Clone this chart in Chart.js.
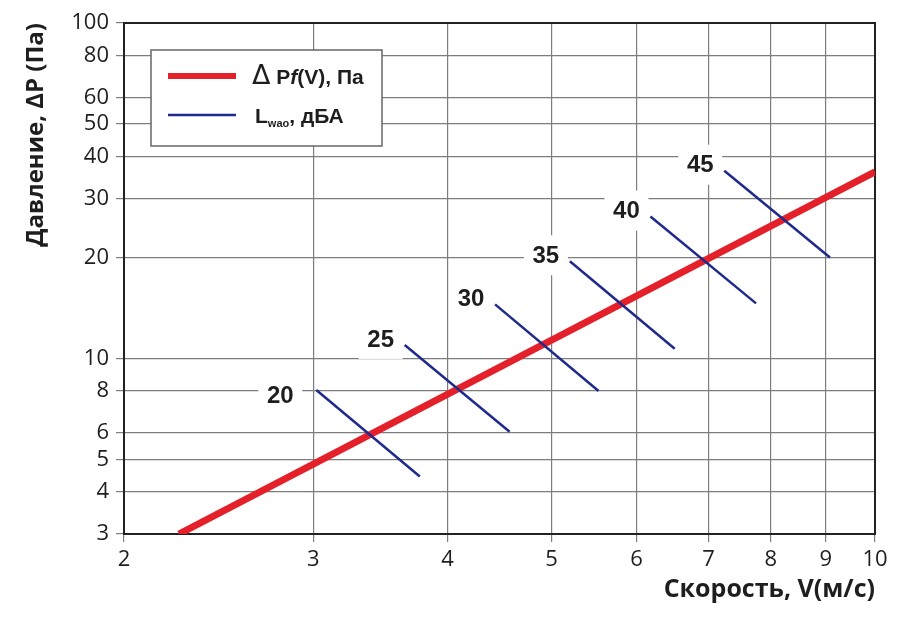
<!DOCTYPE html>
<html>
<head>
<meta charset="utf-8">
<script src="https://cdn.jsdelivr.net/npm/chart.js@4.4.1/dist/chart.umd.min.js"></script>
<style>
  html, body { margin: 0; padding: 0; background: #fff; }
  #wrap { width: 900px; height: 618px; }
</style>
</head>
<body>
<div id="wrap"><canvas id="chart"></canvas></div>
<script>
// axis ticks
const speedTicks = [2, 3, 4, 5, 6, 7, 8, 9, 10];
const pressureTicks = [3, 4, 5, 6, 8, 10, 20, 30, 40, 50, 60, 80, 100];

// pressure drop line, ΔP = f(V)
const lineSpeed = [2.25, 10];
const linePressure = [3, 36];

// noise level segments L_wao, dBA
const noiseLevels = [20, 25, 30, 35, 40, 45];
const noiseStartSpeed = [3.02, 3.65, 4.43, 5.20, 6.18, 7.24];
const noiseStartPressure = [8.06, 10.98, 14.5, 19.5, 26.5, 36.3];
const noiseEndSpeed = [3.77, 4.57, 5.53, 6.51, 7.75, 9.08];
const noiseEndPressure = [4.45, 6.05, 8.0, 10.7, 14.6, 20.0];

const RED = '#e4202a';
const BLUE = '#1f2a8c';
const GRID = '#7d7d7d';
const TEXT = '#1e1e1e';

const datasets = [{
    label: 'ΔPf(V), Па',
    data: lineSpeed.map((v, i) => ({ x: v, y: linePressure[i] })),
    borderColor: RED,
    borderWidth: 7,
    pointRadius: 0,
    order: 2
}];
noiseLevels.forEach((lvl, i) => {
    datasets.push({
        label: 'L' + lvl,
        data: [
            { x: noiseStartSpeed[i], y: noiseStartPressure[i] },
            { x: noiseEndSpeed[i], y: noiseEndPressure[i] }
        ],
        borderColor: BLUE,
        borderWidth: 2.5,
        pointRadius: 0,
        order: 1
    });
});

// frame + level labels, drawn under the lines
const underlay = {
    id: 'underlay',
    beforeDatasetsDraw(chart) {
        const { ctx, chartArea: a, scales: { x, y } } = chart;
        ctx.save();
        ctx.strokeStyle = '#222';
        ctx.lineWidth = 2;
        ctx.strokeRect(a.left, a.top, a.right - a.left, a.bottom - a.top);

        ctx.font = 'bold 24px "Liberation Sans", Arial, sans-serif';
        ctx.textAlign = 'center';
        ctx.textBaseline = 'middle';
        noiseLevels.forEach((lvl, i) => {
            const px = x.getPixelForValue(noiseStartSpeed[i]);
            const py = y.getPixelForValue(noiseStartPressure[i]);
            const cx = px + (i === 0 ? -36 : -24);
            const cy = py + (i === 0 ? 5 : -6);
            ctx.fillStyle = '#fff';
            ctx.fillRect(cx - 22, cy - 20, 44, 40);
            ctx.fillStyle = TEXT;
            ctx.fillText(String(lvl), cx, cy + 1);
        });
        ctx.restore();
    }
};

const legendBox = {
    id: 'legendBox',
    afterDatasetsDraw(chart) {
        const { ctx, chartArea: a } = chart;
        const bx = a.left + 27, by = a.top + 27, bw = 231, bh = 96;
        ctx.save();
        ctx.fillStyle = '#fff';
        ctx.fillRect(bx, by, bw, bh);
        ctx.strokeStyle = '#666';
        ctx.lineWidth = 1.5;
        ctx.strokeRect(bx, by, bw, bh);

        ctx.lineCap = 'butt';
        ctx.strokeStyle = RED;
        ctx.lineWidth = 6;
        ctx.beginPath(); ctx.moveTo(bx + 17, by + 26); ctx.lineTo(bx + 85, by + 26); ctx.stroke();
        ctx.strokeStyle = BLUE;
        ctx.lineWidth = 2.5;
        ctx.beginPath(); ctx.moveTo(bx + 17, by + 65); ctx.lineTo(bx + 85, by + 65); ctx.stroke();

        const bold = 'bold 21px "Liberation Sans", Arial, sans-serif';
        ctx.fillStyle = TEXT;
        ctx.textBaseline = 'alphabetic';
        let tx = bx + 101;
        const parts1 = [
            ['Δ', '27px "DejaVu Sans", sans-serif'],
            [' P', bold],
            ['f', 'italic ' + bold],
            ['(V), Па', bold]
        ];
        parts1.forEach(([t, f]) => {
            ctx.font = f;
            ctx.fillText(t, tx, by + 34);
            tx += ctx.measureText(t).width;
        });

        tx = bx + 104;
        ctx.font = bold;
        ctx.fillText('L', tx, by + 73);
        tx += ctx.measureText('L').width;
        ctx.font = 'bold 11px "Liberation Sans", Arial, sans-serif';
        ctx.fillText('wao', tx, by + 77);
        tx += ctx.measureText('wao').width;
        ctx.font = bold;
        ctx.fillText(', дБА', tx, by + 73);
        ctx.restore();
    }
};

const tickFont = { family: '"Open Sans", sans-serif', size: 22 };

new Chart(document.getElementById('chart'), {
    type: 'line',
    data: { datasets },
    options: {
        responsive: true,
        maintainAspectRatio: false,
        animation: false,
        layout: { padding: { top: 23, right: 25, left: 0, bottom: 0 } },
        plugins: { legend: { display: false }, tooltip: { enabled: false } },
        scales: {
            x: {
                type: 'logarithmic',
                min: 2,
                max: 10,
                afterBuildTicks: s => { s.ticks = speedTicks.map(v => ({ value: v })); },
                afterFit: s => { s.height = 84; },
                ticks: { callback: v => String(v), font: tickFont, color: TEXT, padding: 5, autoSkip: false, maxRotation: 0 },
                grid: { color: GRID, lineWidth: 1.2, tickLength: 8 },
                border: { display: false },
                title: {
                    display: true, text: 'Скорость, V(м/с)', align: 'end',
                    font: { family: '"Open Sans", sans-serif', size: 25, weight: 'bold' },
                    color: TEXT, padding: { top: 0, bottom: 13 }
                }
            },
            y: {
                type: 'logarithmic',
                min: 3,
                max: 100,
                afterBuildTicks: s => { s.ticks = pressureTicks.map(v => ({ value: v })); },
                afterFit: s => { s.width = 124; },
                ticks: { callback: v => String(v), font: tickFont, color: TEXT, padding: 7, autoSkip: false },
                grid: { color: GRID, lineWidth: 1.2, tickLength: 8 },
                border: { display: false },
                title: {
                    display: true, text: 'Давление, ΔP (Па)', align: 'end',
                    font: { family: '"Open Sans", sans-serif', size: 24, weight: 'bold' },
                    color: TEXT, padding: { top: 22, bottom: 0 }
                }
            }
        }
    },
    plugins: [underlay, legendBox]
});
</script>
</body>
</html>
